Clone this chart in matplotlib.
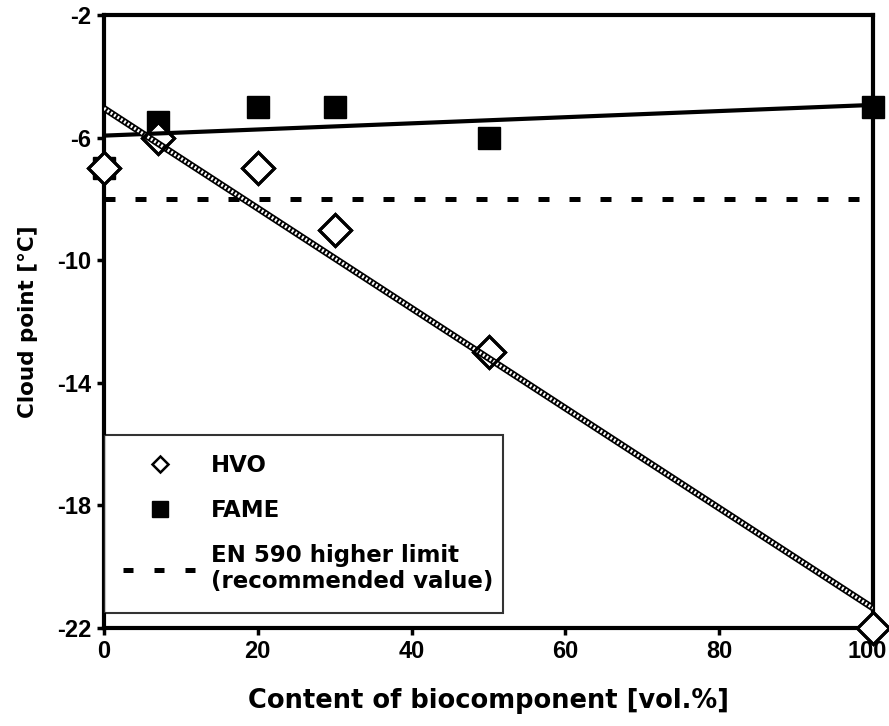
import numpy as np
import matplotlib.pyplot as plt
import matplotlib.transforms as mtransforms
from matplotlib.lines import Line2D

plt.rcParams['font.family'] = ['DejaVu Sans']
plt.rcParams['font.weight'] = 'bold'
plt.rcParams['axes.unicode_minus'] = False

content = [0, 7, 20, 30, 50, 100]
hvo = [-7, -6, -7, -9, -13, -22]
fame = [-7, -5.5, -5, -5, -6, -5]
en590_limit = -8

xticks = [0, 20, 40, 60, 80, 100]
yticks = [-22, -18, -14, -10, -6, -2]

fig = plt.figure(figsize=(8.89, 7.26), dpi=100)
ax = fig.add_axes([0.117, 0.135, 0.865, 0.844])

# linear trend lines
xs = np.array([0, 100])
m_h, b_h = np.polyfit(content, hvo, 1)
m_f, b_f = np.polyfit(content, fame, 1)

ax.plot(content, fame, 's', color='black', ms=15.5, zorder=3, clip_on=False)
ax.plot(content, hvo, 'D', mfc='white', mec='black', mew=2.2, ms=16.5,
        zorder=3, clip_on=False)
ax.plot(content, hvo, 'D', mfc='none', mec='black', mew=2.2, ms=16.5,
        zorder=6, clip_on=False)

ax.plot(xs, m_f * xs + b_f, color='black', lw=3, zorder=4)
ax.plot(xs, m_h * xs + b_h, color='black', lw=4.8, zorder=4, solid_capstyle='butt')
ax.plot(xs, m_h * xs + b_h, color='white', lw=2.4, zorder=5,
        dashes=(0.6, 0.6), dash_capstyle='butt')

ax.axhline(en590_limit, color='black', lw=3.6, dashes=(2.2, 4.0),
           dash_capstyle='butt', zorder=2)

ax.set_xlim(0, 100)
ax.set_ylim(-22, -2)
ax.set_xticks(xticks)
ax.set_yticks(yticks)
for s in ax.spines.values():
    s.set_linewidth(3)
ax.tick_params(direction='out', length=5, width=2.5, labelsize=17, pad=4)
for lab in ax.get_xticklabels() + ax.get_yticklabels():
    lab.set_fontweight('bold')
    lab.set_family(['Liberation Sans', 'DejaVu Sans'])
# keep the last x label inside the figure
last = ax.get_xticklabels()[-1]
last.set_transform(last.get_transform() +
                   mtransforms.ScaledTranslation(-4 / 72, 0, fig.dpi_scale_trans))

ax.set_xlabel('Content of biocomponent [vol.%]', fontsize=18.5, fontweight='bold', labelpad=18)
ax.set_ylabel('Cloud point [°C]', fontsize=15.5, fontweight='bold', labelpad=14)

handles = [
    Line2D([], [], marker='D', ls='none', mfc='white', mec='black', mew=1.8, ms=8),
    Line2D([], [], marker='s', ls='none', color='black', ms=11),
    Line2D([], [], color='black', lw=3.6, dashes=(2.0, 4.2), dash_capstyle='butt'),
]
labels = ['HVO', 'FAME', 'EN 590 higher limit\n(recommended value)']
leg = ax.legend(handles, labels, loc='lower left',
                bbox_to_anchor=(0.0, 0.0245, 0.519, 0.2935), mode='expand',
                fontsize=16.5, frameon=True, fancybox=False, borderaxespad=0,
                labelspacing=0.95, handlelength=3.2, handletextpad=0.6,
                borderpad=0.85)
leg.get_frame().set_edgecolor('black')
leg.get_frame().set_linewidth(1.5)
leg.set_zorder(7)
for t in leg.get_texts():
    t.set_fontweight('bold')

fig.savefig('out.png', dpi=100)
